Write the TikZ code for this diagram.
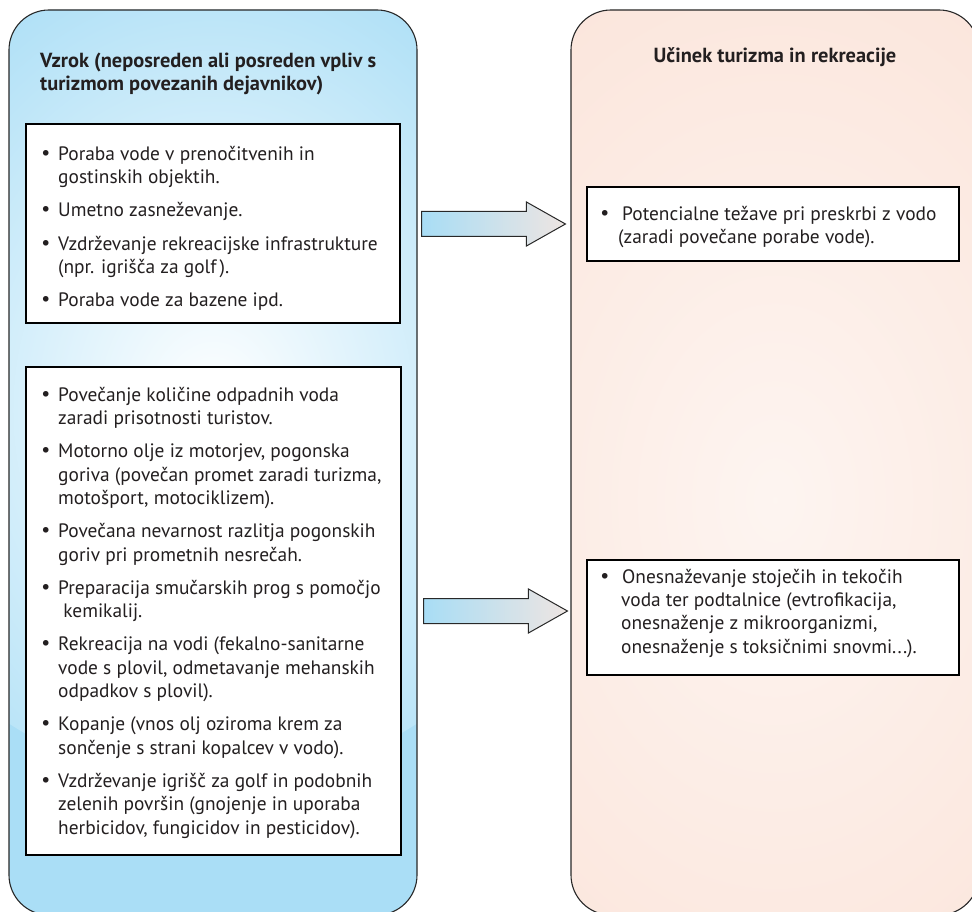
\documentclass[tikz,border=0pt]{standalone}
\usepackage{fontspec}
\setmainfont{PT Sans}
\newfontfamily\dv{DejaVu Sans}
\usetikzlibrary{calc}
\definecolor{panelblue}{RGB}{170,222,246}
\definecolor{panelpink}{RGB}{251,229,219}
\definecolor{edgec}{RGB}{40,40,40}
\definecolor{textc}{RGB}{35,31,32}
\definecolor{arrowblue}{RGB}{168,221,245}
\definecolor{arrowpink}{RGB}{238,229,226}
\newcommand\bl{\makebox[13pt][l]{\hspace*{-5pt}{\dv •}}}
\newcommand\ind{\hspace*{13pt}}
\newcommand\blw{\makebox[18pt][l]{\hspace*{-5pt}{\dv •}}}
\newcommand\indw{\hspace*{17pt}}
\newcommand\fs{\rule{0pt}{18pt}}
\newcommand\blockarrow[2]{%
  \shade[barrow] ($(#1)+(0,-12.5)$) -- ($(#2)+(-39,-12.5)$) -- ($(#2)+(-39,-22)$) -- (#2)
    -- ($(#2)+(-39,22)$) -- ($(#2)+(-39,12.5)$) -- ($(#1)+(0,12.5)$) -- cycle;}
\begin{document}
\begin{tikzpicture}[x=1pt,y=-1pt,
  panel/.style={draw=edgec, line width=1.1pt, rounded corners=40pt, minimum width=408pt, minimum height=905pt, inner sep=0pt},
  box/.style={draw=black, fill=white, line width=1.1pt, inner sep=0pt},
  body/.style={align=left, inner sep=0pt, anchor=north west, font=\fontsize{19.4}{23.3}\selectfont, text=textc},
  ttl/.style={font=\bfseries\fontsize{20.4}{23}\selectfont, inner sep=0pt, text=textc},
  barrow/.style={draw=edgec, line width=1pt, left color=arrowblue, right color=arrowpink, line join=miter}
]
\useasboundingbox (0,0) rectangle (972,912);
\begin{scope}
\clip (0,0) rectangle (972,912);
\node[panel, fill=panelblue, path picture={\shade[inner color=white, outer color=panelblue] ($(path picture bounding box.north)+(0,335)$) ellipse (400 and 440);}] (L) at (213,462.5) {};
\node[panel, fill=panelpink, path picture={\shade[inner color=white!60!panelpink, outer color=panelpink] ($(path picture bounding box.north)+(0,490)$) ellipse (420 and 600);}] (R) at (775,462.5) {};
\end{scope}

\node[ttl, align=left, anchor=north west] (t1) at (40,49) {\fs Vzrok (neposreden ali posreden vpliv s\\turizmom povezanih dejavnikov)};
\node[ttl, anchor=base] (t2) at (775,63) {Učinek turizma in rekreacije};

\node[box, minimum width=374pt, minimum height=199pt] (b1) at (213,223.5) {};
\node[box, minimum width=375pt, minimum height=488pt] (b2) at (213.5,611) {};
\node[box, minimum width=372pt, minimum height=74pt] (b3) at (773,224) {};
\node[box, minimum width=372pt, minimum height=115pt] (b4) at (773,617.5) {};

\node[body] (t3) at (45,142) {\fs\bl Poraba vode v prenočitvenih in\\
\ind gostinskih objektih.\\[10pt]
\bl Umetno zasneževanje.\\[10pt]
\bl Vzdrževanje rekreacijske infrastrukture\\
\ind (npr. igrišča za golf\,).\\[10pt]
\bl Poraba vode za bazene ipd.};

\node[body] (t4) at (45,383) {\fs\bl Povečanje količine odpadnih voda\\
\ind zaradi prisotnosti turistov.\\[10pt]
\bl Motorno olje iz motorjev, pogonska\\
\ind goriva (povečan promet zaradi turizma,\\
\ind motošport, motociklizem).\\[10pt]
\bl Povečana nevarnost razlitja pogonskih\\
\ind goriv pri prometnih nesrečah.\\[10pt]
\bl Preparacija smučarskih prog s pomočjo\\
\ind\ kemikalij.\\[10pt]
\bl Rekreacija na vodi (fekalno-sanitarne\\
\ind vode s plovil, odmetavanje mehanskih\\
\ind odpadkov s plovil).\\[10pt]
\bl Kopanje (vnos olj oziroma krem za\\
\ind sončenje s strani kopalcev v vodo).\\[10pt]
\bl Vzdrževanje igrišč za golf in podobnih\\
\ind zelenih površin (gnojenje in uporaba\\
\ind herbicidov, fungicidov in pesticidov).};

\node[body] (t5) at (604,202) {\fs\blw Potencialne težave pri preskrbi z vodo\\
\hspace*{14pt}(zaradi povečane porabe vode).};

\node[body] (t6) at (604,565) {\fs\blw Onesnaževanje stoječih in tekočih\\
\indw voda ter podtalnice (evtrofikacija,\\
\indw onesnaženje z mikroorganizmi,\\
\indw onesnaženje s toksičnimi snovmi...).};

\coordinate (a1s) at ($(L.east |- b3.center)+(4,0)$);
\coordinate (a1e) at ($(R.west |- b3.center)+(-5,0)$);
\coordinate (a2s) at ($(L.east |- b2.center)+(6,0)$);
\coordinate (a2e) at ($(R.west |- b2.center)+(-3,0)$);
\blockarrow{a1s}{a1e}
\blockarrow{a2s}{a2e}
\end{tikzpicture}
\end{document}
